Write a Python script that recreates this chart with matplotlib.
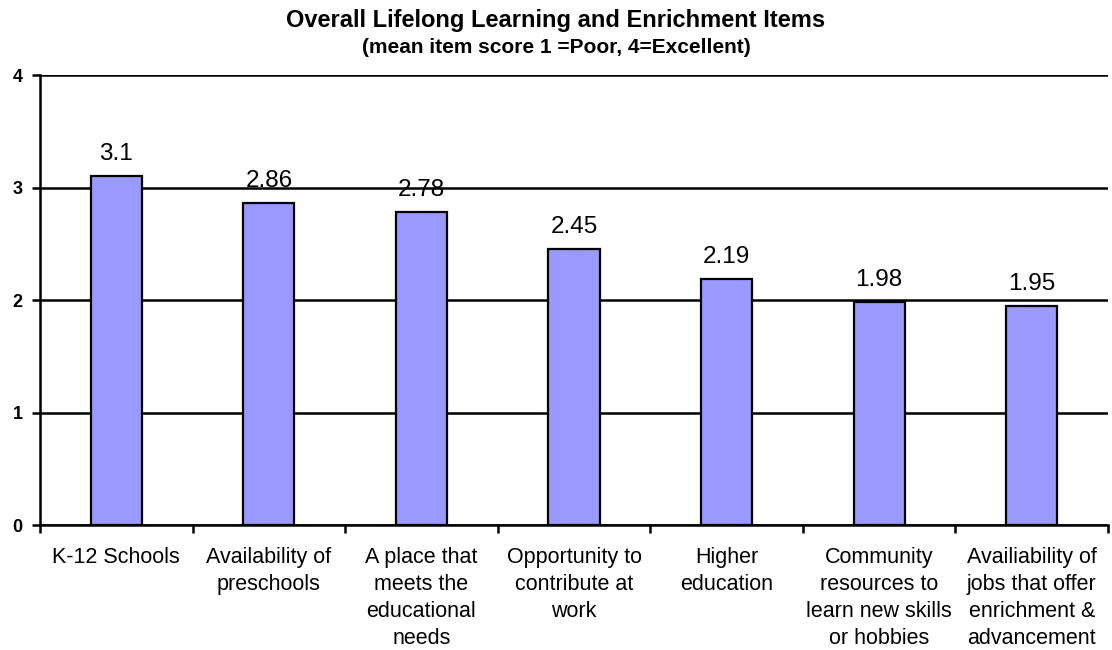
import matplotlib.pyplot as plt
import numpy as np

# Data
categories = ['K-12 Schools', 'Availability of\npreschools', 'A place that\nmeets the\neducational\nneeds',
              'Opportunity to\ncontribute at\nwork', 'Higher\neducation',
              'Community\nresources to\nlearn new skills\nor hobbies',
              'Availiability of\njobs that offer\nenrichment &\nadvancement']
scores = [3.1, 2.86, 2.78, 2.45, 2.19, 1.98, 1.95]
score_labels = ['3.1', '2.86', '2.78', '2.45', '2.19', '1.98', '1.95']

plt.rcParams['font.family'] = ['Liberation Sans', 'DejaVu Sans']

fig = plt.figure(figsize=(11.12, 6.5), dpi=100)
ax = fig.add_axes([0.036, 0.1923, 0.9604, 0.6923])

x = np.arange(len(categories))
ax.bar(x, scores, width=0.335, color='#9999FF', edgecolor='black', linewidth=1.6, zorder=3)

# value labels above the bars
for xi, v, lab in zip(x, scores, score_labels):
    ax.annotate(lab, (xi, v), xytext=(0, 11.5), textcoords='offset points',
                ha='center', va='baseline', fontsize=17.5)

ax.set_xlim(-0.5, len(categories) - 0.5)
ax.set_ylim(0, 4)
ax.set_yticks([0, 1, 2, 3, 4])
ax.set_yticklabels(['0', '1', '2', '3', '4'], fontweight='bold', fontsize=13)
ax.yaxis.grid(True, color='black', linewidth=1.8, zorder=0)

ax.set_xticks(x)
ax.set_xticklabels(categories, fontsize=15.5, linespacing=1.37)
ax.tick_params(axis='x', which='major', length=0, pad=16)
ax.set_xticks(np.arange(len(categories) + 1) - 0.5, minor=True)
ax.tick_params(axis='x', which='minor', length=5.5, width=1.8, direction='out')
ax.tick_params(axis='y', length=5.5, width=1.8, direction='out', pad=7)

for s in ['top', 'right']:
    ax.spines[s].set_visible(False)
ax.spines['left'].set_linewidth(1.8)
ax.spines['bottom'].set_linewidth(1.8)

fig.text(0.5, 0.968, 'Overall Lifelong Learning and Enrichment Items', ha='center', va='center',
         fontsize=17, fontweight='bold')
fig.text(0.5, 0.927, '(mean item score 1 =Poor, 4=Excellent)', ha='center', va='center',
         fontsize=15, fontweight='bold')

plt.savefig('out.png', dpi=100)
